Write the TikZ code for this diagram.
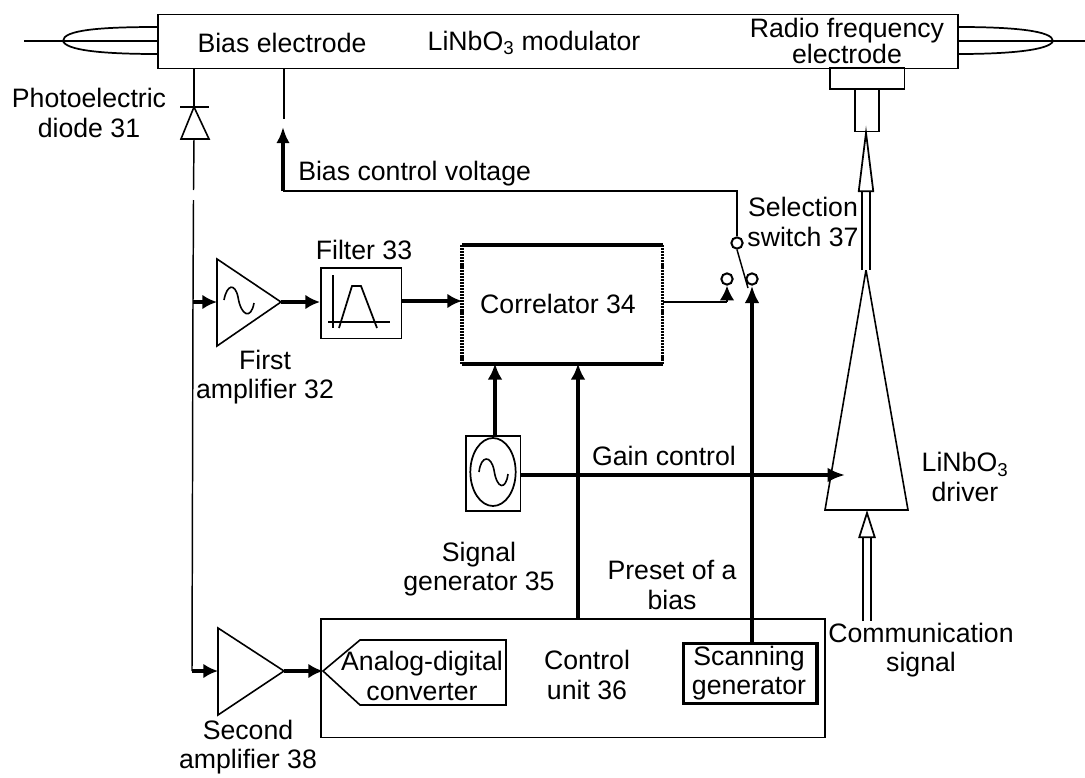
\documentclass[tikz,border=0pt]{standalone}
\usepackage{fontspec}
\setmainfont{Liberation Sans}
\usetikzlibrary{arrows.meta,shapes.geometric}
\tikzset{
  px/.style={x=0.75pt,y=-0.75pt},
  label/.style={inner sep=0pt,align=center,font=\fontsize{20pt}{22pt}\selectfont},
  tightlabel/.style={inner sep=0pt,align=center,font=\fontsize{20pt}{19.5pt}\selectfont},
  thin line/.style={line width=1.1pt},
  box/.style={draw,line width=1.2pt,inner sep=0pt,anchor=north west},
  fat/.style={line width=3pt,-{Latex[length=12pt,width=11pt]},shorten >=0pt},
  fatlow/.style={line width=3pt,-{Latex[length=11pt,width=11pt]}},
  hollow/.style={double,line width=1.3pt,double distance=4.2pt,shorten >=-5pt,-{Triangle[open,fill=white,length=50pt,width=12pt,line width=1.3pt]}},
  hollowlow/.style={double,line width=1.3pt,double distance=4.8pt,-{Triangle[open,fill=white,length=21pt,width=13pt,line width=1.3pt]}},
  contact/.style={circle,draw,line width=1.5pt,minimum width=8.5pt,inner sep=0pt,fill=white},
}
\begin{document}
\begin{tikzpicture}[px]
\useasboundingbox (0,0) rectangle (1085,778);
\fill[white] (0,0) rectangle (1085,778);

% modulator and fibres
\node[box,minimum width=600pt,minimum height=40.5pt] (mod) at (157,13.5) {};
\coordinate (fl) at (24,41);
\coordinate (fltip) at (63,41);
\coordinate (fr) at (1085,41);
\coordinate (frtip) at (1053,41);
\draw[thin line] (fl) -- (fl -| mod.west);
\draw[line width=1.3pt] (mod.west |- 0,27) .. controls (100,27) and (63,30) .. (fltip) .. controls (66,50) and (100,54) .. (mod.west |- 0,54);
\draw[thin line] (fr) -- (fr -| mod.east);
\draw[line width=1.3pt] (mod.east |- 0,27) .. controls (1015,27) and (1053,31) .. (frtip) .. controls (1050,50) and (1010,54) .. (mod.east |- 0,54);
\node[label] (bias) at (282,43) {Bias electrode};
\node[label] (lin) at (534,43) {LiNbO\textsubscript{3} modulator};
\node[tightlabel] (rf) at (847,41) {Radio frequency\\electrode};

% RF connectors
\node[box,minimum width=56pt,minimum height=16pt] (rfa) at (829,67) {};
\node[box,minimum width=18pt,minimum height=31.5pt] (rfb) at (854,88.5) {};

% diode
\coordinate (dtop) at (194,107);
\coordinate (dl) at (181,139);
\coordinate (dr) at (209,139);
\coordinate (dbot) at (194,139);
\coordinate (g1) at (193.5,190);
\coordinate (g2) at (193.5,200);
\coordinate (j1) at (193,302);
\coordinate (j2) at (192,671);
\draw[thin line] (dtop |- mod.south) -- (dtop);
\draw[line width=1.3pt] (180,107) -- (209,107);
\draw[line width=1.2pt] (dtop) -- (dl) -- (dr) -- cycle;
\draw[thin line] (dbot) -- (g1);
\draw[thin line] (g2) -- (j1) -- (j2);
\node[label] (pd) at (89,113) {Photoelectric\\diode 31};

% first amplifier
\coordinate (a1a) at (217,259);
\coordinate (a1b) at (217,346);
\coordinate (a1t) at (281,302);
\draw[line width=1.2pt] (a1a) -- (a1b) -- (a1t) -- cycle;
\draw[line width=1.2pt] (224,300) .. controls (227,284) and (235,283) .. (238,297) .. controls (241,316) and (251,320) .. (254,303);
\node[label] (a1l) at (265,377) {First\\amplifier 32};
\draw[fatlow] (j1) -- (a1a |- j1);

% filter
\node[box,minimum width=60.5pt,minimum height=53pt] (filt) at (320,267) {};
\draw[line width=1.6pt] (333,275) -- (333,328);
\draw[thin line] (328,322) -- (390,322);
\draw[line width=1.3pt] (339,328) -- (352,286) -- (361,286) -- (377,328);
\node[label] (fl33) at (364,250) {Filter 33};
\draw[fatlow] (a1t) -- (filt.west |- a1t);

% correlator
\node[inner sep=0pt,minimum width=150pt,minimum height=88.5pt,anchor=north west] (cor) at (462,245) {};
\draw[line width=3pt] (cor.north west) -- (cor.north east);
\draw[line width=3pt] (cor.south west) -- (cor.south east);
\draw[line width=2.6pt,dash pattern=on 1.6pt off 0.7pt] (cor.north west) -- (cor.south west);
\draw[line width=2.6pt,dash pattern=on 1.6pt off 0.7pt] (cor.north east) -- (cor.south east);
\node[label] (corl) at (558,304) {Correlator 34};
\draw[fatlow] (filt.east |- 0,301) -- (cor.west |- 0,301);

% switch
\node[contact] (sw) at (737,243) {};
\node[contact] (c1) at (727,279) {};
\node[contact] (c2) at (752,279) {};
\coordinate (c1b) at (727,302);
\coordinate (c2p) at (748,288);
\draw[thin line] (cor.east |- c1b) -- (c1b);
\draw[line width=2pt,-{Latex[length=11pt,width=11pt]}] (c1b) -- (c1.south);
\draw[thin line] (sw.south) -- (c2p);
\node[label] (swl) at (803,222) {Selection\\switch 37};

% bias control
\coordinate (bc) at (283,191);
\coordinate (bct) at (283,127);
\coordinate (bce) at (284,119);
\draw[thin line] (sw.north) -- (sw.north |- bc) -- (bc);
\draw[line width=3pt,-{Latex[length=12pt,width=10pt]}] (bc) -- (bct);
\draw[thin line] (bce |- mod.south) -- (bce);
\node[label,anchor=west] (bcl) at (298,174) {Bias control voltage};

% signal generator
\node[box,minimum width=41pt,minimum height=56.5pt] (sg) at (465,435) {};
\node[ellipse,draw,line width=1.3pt,minimum width=34pt,minimum height=51pt,inner sep=0pt] (sge) at (493,472) {};
\draw[line width=1.2pt] (479,472) .. controls (481,455) and (491,455) .. (494,470) .. controls (497,490) and (506,490) .. (508,474);
\node[label] (sgl) at (479,569) {Signal\\generator 35};
\draw[fat] (sg.north -| 495,0) -- (cor.south -| 495,0);

% control unit
\node[box,minimum width=378pt,minimum height=89pt] (cu) at (320,618) {};
\node[label] (cul) at (587,675) {Control\\unit 36};
\node[label] (pre) at (672,585) {Preset of a\\bias};
\draw[fat] (cu.north -| 578,0) -- (cor.south -| 578,0);

% scanning generator
\node[box,line width=2.6pt,minimum width=100pt,minimum height=45pt] (sc) at (682,642) {};
\node[tightlabel,font=\fontsize{20pt}{21.5pt}\selectfont] (scl) at (749,673) {Scanning\\generator};
\draw[line width=3pt,-{Latex[length=13pt,width=11pt]}] (sc.north -| c2) -- (c2.south);

% second amplifier
\coordinate (a2a) at (218,628);
\coordinate (a2b) at (218,715);
\coordinate (a2t) at (284,671);
\draw[line width=1.2pt] (a2a) -- (a2b) -- (a2t) -- cycle;
\node[label] (a2l) at (248,747) {Second\\amplifier 38};
\draw[fatlow] (j2) -- (a2a |- j2);

% ADC
\coordinate (adct) at (323,671);
\draw[line width=1.2pt] (adct) -- (360,640) -- (506,640) -- (506,705) -- (360,705) -- cycle;
\node[label] (adcl) at (422,676) {Analog-digital\\converter};
\draw[fatlow] (a2t) -- (adct);

% driver
\coordinate (dra) at (866,270);
\coordinate (drb) at (825,510);
\coordinate (drc) at (908,510);
\coordinate (drbm) at (866,510);
\draw[line width=1.2pt] (dra) -- (drb) -- (drc) -- cycle;
\node[label] (drl) at (965,477) {LiNbO\textsubscript{3}\\driver};
\draw[line width=3pt,-{Latex[length=13pt,width=11pt]}] (sg.east |- 0,475) -- (845,475);
\node[label] (gain) at (664,456) {Gain control};
\draw[hollow] (dra) -- (rfb.south -| dra);

% communication
\coordinate (cs) at (867,621);
\draw[hollowlow] (cs) -- (cs |- drbm);
\node[label] (csl) at (921,650) {Communication\\signal};
\end{tikzpicture}
\end{document}
